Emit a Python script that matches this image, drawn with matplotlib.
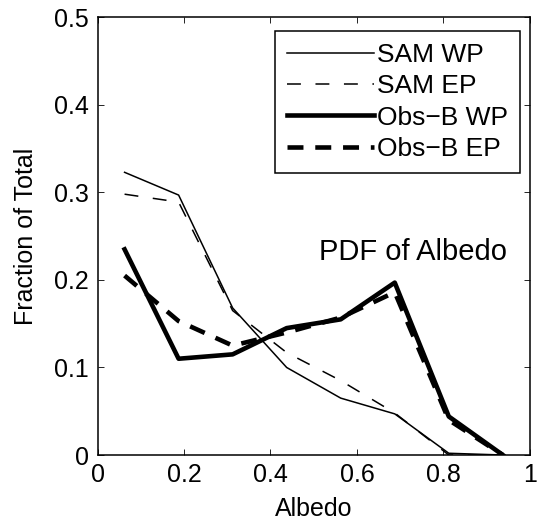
import matplotlib
matplotlib.use("Agg")
import matplotlib.pyplot as plt

plt.rcParams['font.family'] = ['Liberation Sans', 'DejaVu Sans']
plt.rcParams['lines.scale_dashes'] = False

albedo = [0.0625, 0.1875, 0.3125, 0.4375, 0.5625, 0.6875, 0.8125, 0.9375]
sam_wp = [0.323, 0.297, 0.168, 0.100, 0.065, 0.047, 0.002, 0.0]
sam_ep = [0.298, 0.289, 0.165, 0.117, 0.085, 0.048, 0.0, 0.0]
obs_wp = [0.235, 0.110, 0.115, 0.145, 0.155, 0.197, 0.044, 0.0]
obs_ep = [0.205, 0.153, 0.125, 0.140, 0.157, 0.186, 0.040, 0.0]

labels = ['SAM WP', 'SAM EP', 'Obs\u2212B WP', 'Obs\u2212B EP']
xticks = [0, 0.2, 0.4, 0.6, 0.8, 1]
yticks = [0, 0.1, 0.2, 0.3, 0.4, 0.5]

fig = plt.figure(figsize=(5.39, 5.27), dpi=100)
ax = fig.add_axes([0.181, 0.1366, 0.983 - 0.181, 0.967 - 0.1366])

thin = 1.1
thick = 3.3
ax.plot(albedo, sam_wp, color='black', lw=thin, label=labels[0])
ax.plot(albedo, sam_ep, color='black', lw=thin, dashes=(10, 10.5), label=labels[1])
ax.plot(albedo, obs_wp, color='black', lw=thick, label=labels[2])
ax.plot(albedo, obs_ep, color='black', lw=thick, dashes=(11.5, 8.5), label=labels[3])

ax.set_xlim(0, 1)
ax.set_ylim(0, 0.5)
ax.set_xticks(xticks)
ax.set_xticklabels(['0', '0.2', '0.4', '0.6', '0.8', '1'])
ax.set_yticks(yticks)
ax.set_yticklabels(['0', '0.1', '0.2', '0.3', '0.4', '0.5'])
ax.tick_params(direction='in', length=4, width=0.6, top=True, right=True,
               labelsize=18, pad=6)
for s in ax.spines.values():
    s.set_linewidth(1.1)

ax.set_xlabel('Albedo', fontsize=18, labelpad=7)
ax.set_ylabel('Fraction of Total', fontsize=18, labelpad=12)

ax.text(0.73, 0.232, 'PDF of Albedo', fontsize=21, ha='center', va='center')

leg = ax.legend(loc='upper right', bbox_to_anchor=(0.977, 0.969), borderaxespad=0,
                fontsize=19, handlelength=3.3, handletextpad=0.12,
                labelspacing=0.28, borderpad=0.45, fancybox=False,
                edgecolor='black', framealpha=1)
leg.get_frame().set_linewidth(1.1)

fig.savefig('out.png', dpi=100)
